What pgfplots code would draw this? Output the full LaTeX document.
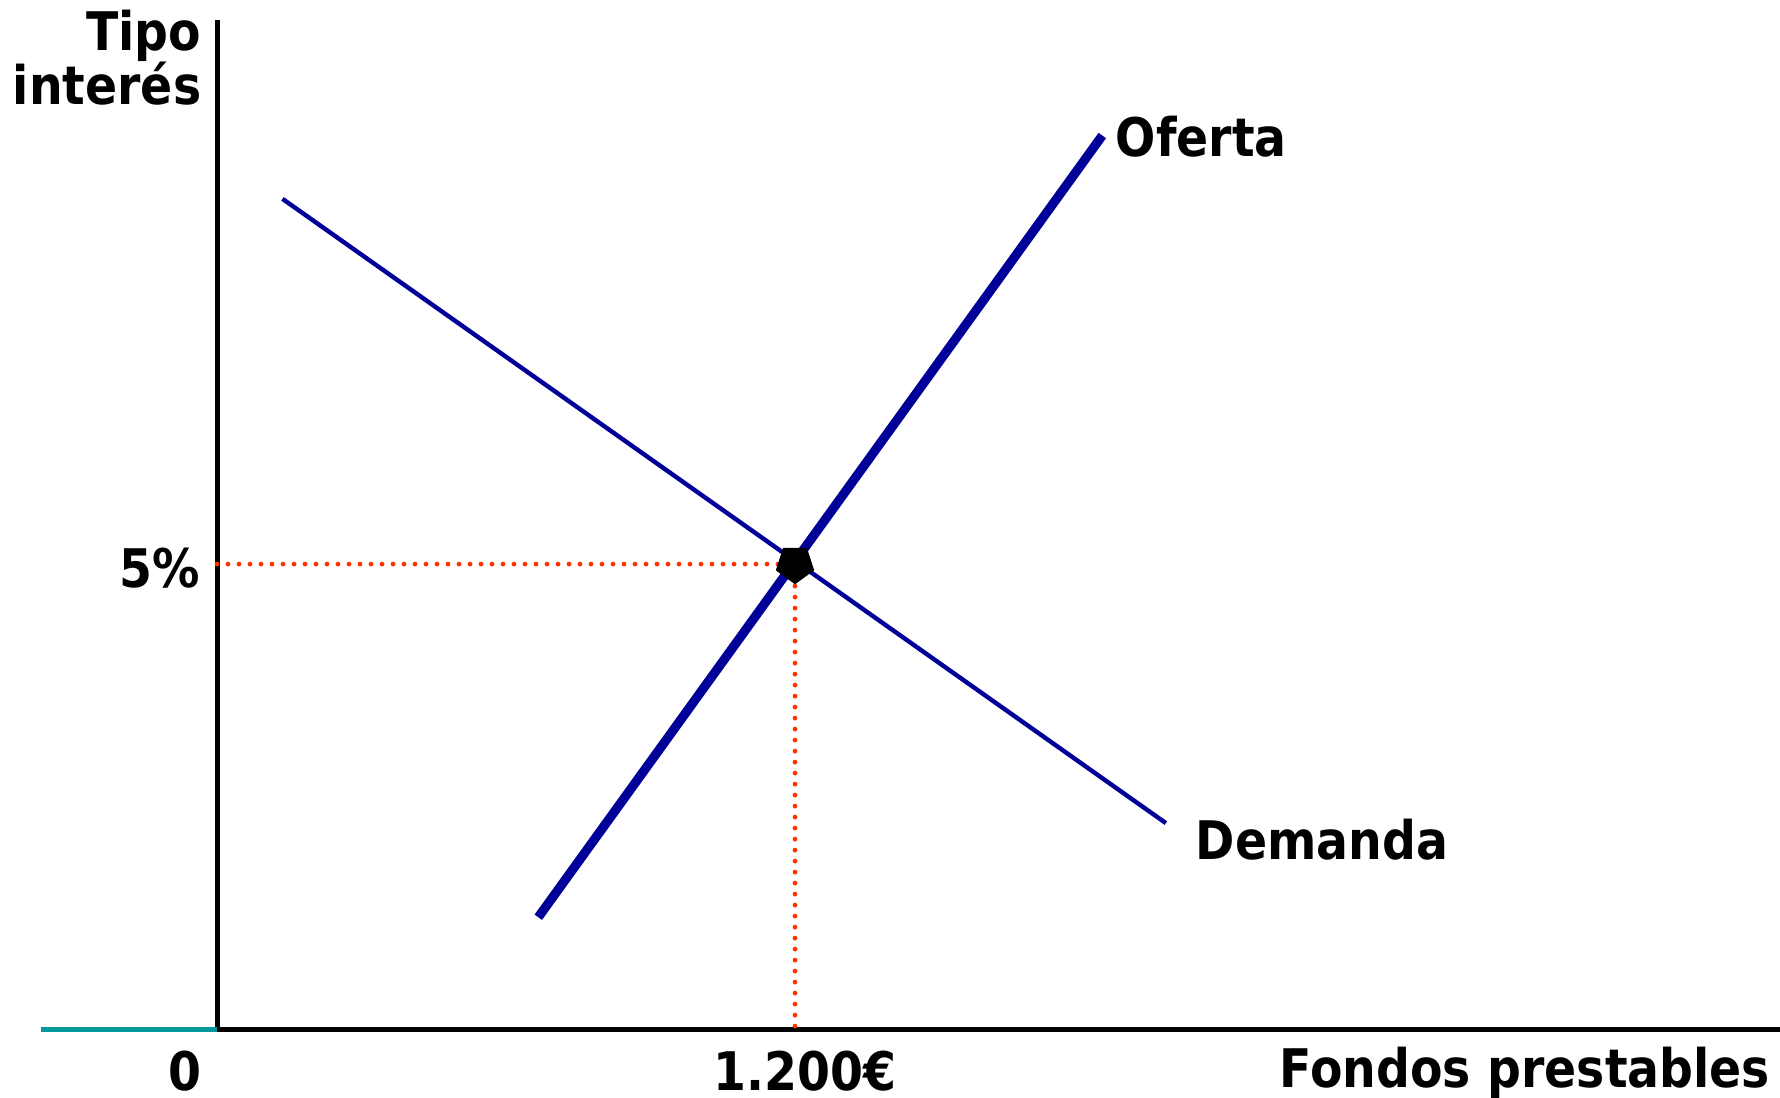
\documentclass[border=0pt]{standalone}
\usepackage{pgfplots}
\pgfplotsset{compat=1.18}
\usepackage{fontspec}
\setmainfont{DejaVu Sans}[FakeStretch=0.89]
\definecolor{navy}{RGB}{0,0,153}
\definecolor{dotred}{RGB}{255,51,0}
\definecolor{tealc}{RGB}{0,153,153}
\begin{document}
\begin{tikzpicture}
\begin{axis}[
  at={(54.25pt,17pt)}, anchor=south west,
  scale only axis, width=390.75pt, height=252.5pt,
  xmin=0, xmax=3245, ymin=0, ymax=10.84,
  axis lines=left, axis line style={-, line width=1.25pt, black},
  ticks=none, clip=false,
]
\addplot[tealc, line width=1.25pt] coordinates {(-365,0) (0,0)};
\addplot[dotred, line width=1.2pt, line cap=round, dash pattern=on 0pt off 2.75pt] coordinates {(0,5) (1200,5)};
\addplot[dotred, line width=1.2pt, line cap=round, dash pattern=on 0pt off 2.75pt] coordinates {(1200,5) (1200,0)};
\addplot[navy, line width=1.1pt] coordinates {(136,8.92) (1970,2.22)};
\addplot[navy, line width=2.3pt] coordinates {(667,1.21) (1838,9.60)};
\addplot[only marks, mark=pentagon*, mark size=4.8pt, mark options={black, fill=black, rotate=180}] coordinates {(1200,5)};
\end{axis}
\begin{scope}[x=0.25pt, y=-0.25pt, yshift=274.5pt, every node/.style={inner sep=0pt, font=\bfseries\fontsize{13.3pt}{15pt}\selectfont}]
\node[anchor=base east] at (202,51) {Tipo};
\node[anchor=base east] at (202,105) {interés};
\node[anchor=base east] at (201,588) {5\%};
\node[anchor=base] at (185,1091) {0};
\node[anchor=base] at (805,1091) {1.200€};
\node[anchor=base west] at (1279,1088) {Fondos prestables};
\node[anchor=base west] at (1115,157) {Oferta};
\node[anchor=base west] at (1195,860) {Demanda};
\end{scope}
\pgfresetboundingbox
\path (0,0) rectangle (445pt,274.5pt);
\end{tikzpicture}
\end{document}
